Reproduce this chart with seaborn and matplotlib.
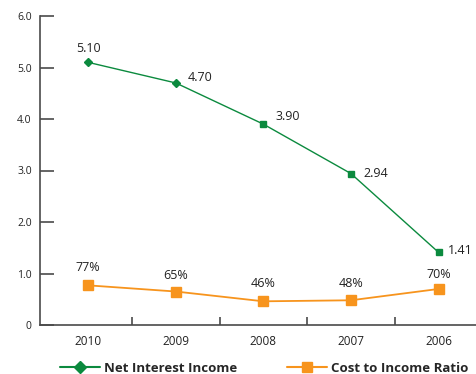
import matplotlib
matplotlib.use("Agg")
import matplotlib.pyplot as plt
import seaborn as sns
import pandas as pd
from matplotlib.lines import Line2D

years = ["2010", "2009", "2008", "2007", "2006"]
net_interest = [5.10, 4.70, 3.90, 2.94, 1.41]
net_labels = ["5.10", "4.70", "3.90", "2.94", "1.41"]
cost_ratio = [77, 65, 46, 48, 70]
cost_labels = ["77%", "65%", "46%", "48%", "70%"]
yticks = [0, 1, 2, 3, 4, 5, 6]
ytick_labels = ["0", "1.0", "2.0", "3.0", "4.0", "5.0", "6.0"]

GREEN = "#0b8a3e"
ORANGE = "#f7941d"
AX = "#4a4a4a"

sns.set_style("white")
plt.rcParams["font.family"] = ["Open Sans", "DejaVu Sans"]

df = pd.DataFrame({"x": range(len(years)), "nii": net_interest,
                   "cir": [c / 100 for c in cost_ratio]})

fig = plt.figure(figsize=(4.76, 3.74), dpi=100)
ax = fig.add_axes([40 / 476, 1 - 325 / 374, 438 / 476, (325 - 16) / 374])

sns.lineplot(data=df, x="x", y="nii", ax=ax, color=GREEN, linewidth=1.0)
sns.lineplot(data=df, x="x", y="cir", ax=ax, color=ORANGE, linewidth=1.3)

gm = ["D", "D", "s", "s", "s"]
for i in range(len(years)):
    ax.plot(i, net_interest[i], marker=gm[i], color=GREEN, markersize=4.5 if gm[i] == "D" else 4,
            linestyle="none", zorder=5)
ax.plot(df["x"], df["cir"], marker="s", color=ORANGE, markersize=6.5, linestyle="none", zorder=5)

offsets = [(0, 14, "center"), (12, 5, "left"), (12, 8, "left"), (12, 0, "left"), (9, 2, "left")]
for i, (dx, dy, ha) in enumerate(offsets):
    ax.annotate(net_labels[i], (i, net_interest[i]), xytext=(dx, dy), textcoords="offset pixels",
                ha=ha, va="center", fontsize=9, color="#222222")
cdy = [18, 16, 18, 17, 14]
for i in range(len(years)):
    ax.annotate(cost_labels[i], (i, cost_ratio[i] / 100), xytext=(0, cdy[i]), textcoords="offset pixels",
                ha="center", va="center", fontsize=9, color="#222222")

ax.set_xlim(-0.55, 4.45)
ax.set_ylim(0, 6)
ax.set_yticks(yticks)
ax.set_yticklabels(ytick_labels)
ax.set_xticks(range(len(years)))
ax.set_xticklabels(years)
ax.set_xlabel("")
ax.set_ylabel("")
for s in ["top", "right"]:
    ax.spines[s].set_visible(False)
for s in ["left", "bottom"]:
    ax.spines[s].set_color(AX)
    ax.spines[s].set_linewidth(1.2)

ax.tick_params(axis="y", which="major", left=True, direction="in", length=10, width=1.2, color=AX,
               labelsize=7.5, pad=6, labelcolor="#222222")
ax.tick_params(axis="x", which="major", bottom=False, length=0, labelsize=8.5, pad=7, labelcolor="#222222")
ax.set_xticks([0.5, 1.5, 2.5, 3.5], minor=True)
ax.tick_params(axis="x", which="minor", bottom=True, direction="in", length=6, width=1.2, color=AX)

handles = [Line2D([0], [0], color=GREEN, marker="D", markersize=6, linewidth=1.5),
           Line2D([0], [0], color=ORANGE, marker="s", markersize=7, linewidth=1.5)]
fig.legend(handles, ["Net Interest Income", "Cost to Income Ratio"], loc="center",
           bbox_to_anchor=(0.555, 1 - 368 / 374), ncol=2, frameon=False,
           prop={"weight": "bold", "size": 9.5}, handlelength=3.0, columnspacing=3.8, handletextpad=0.3)

fig.savefig("out.png", dpi=100)
